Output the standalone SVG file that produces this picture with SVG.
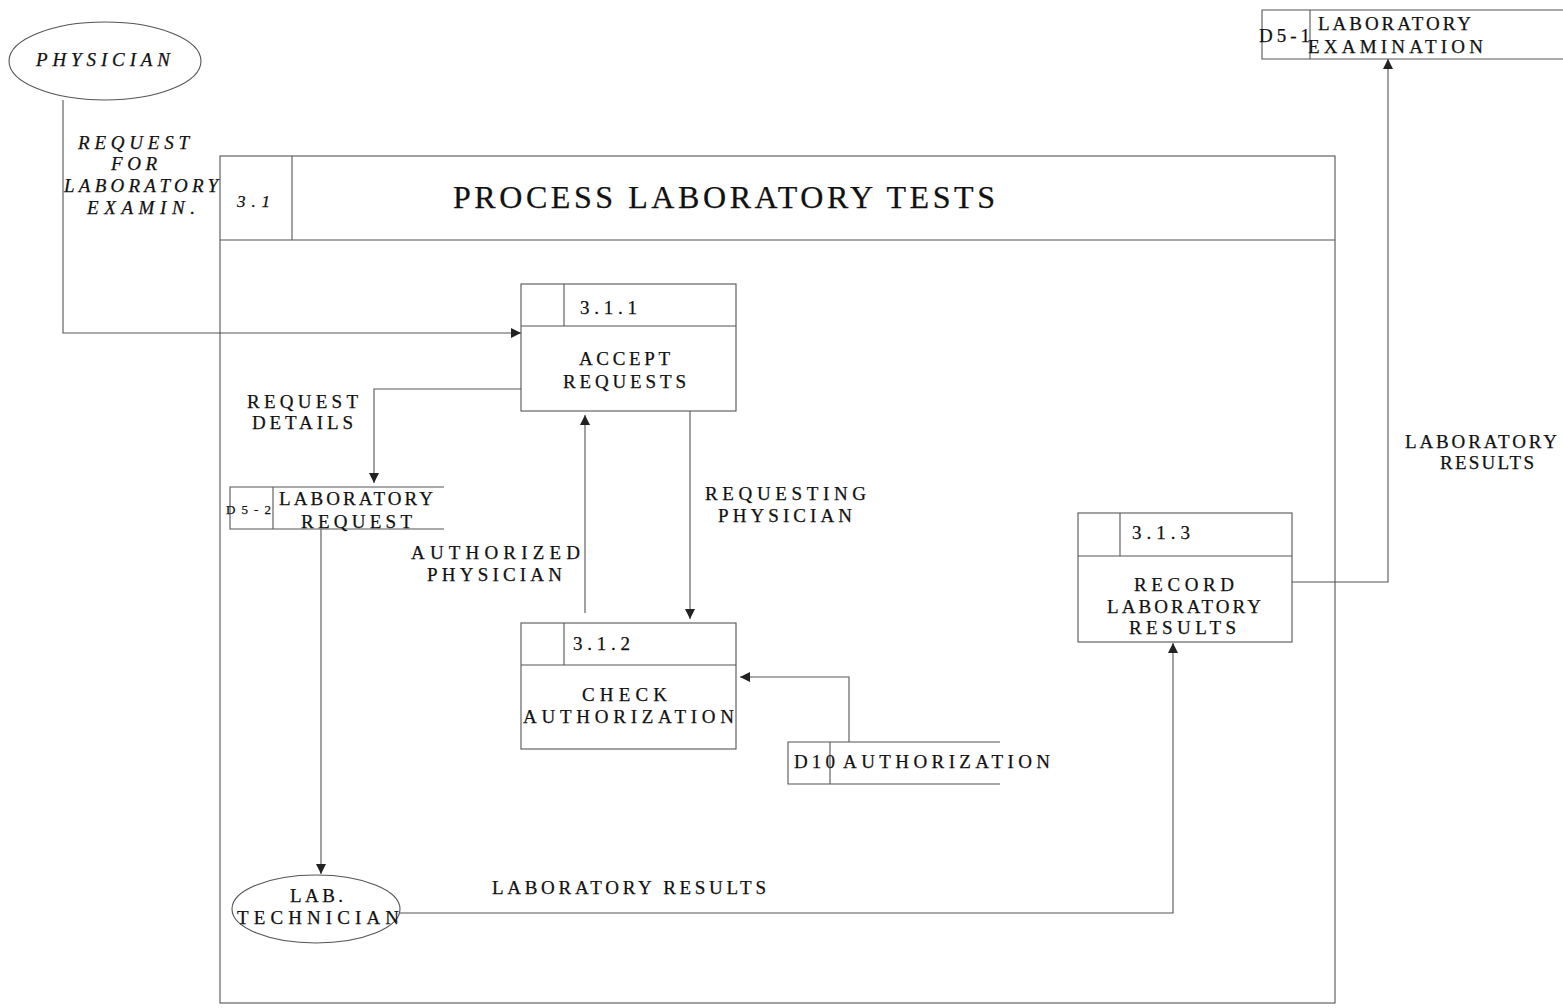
<svg xmlns="http://www.w3.org/2000/svg" width="1563" height="1008" viewBox="0 0 1563 1008">
<defs>
<style>
.box{fill:none;stroke:#555;stroke-width:1.1}
.ln{fill:none;stroke:#555;stroke-width:1.1}
.t{font-family:"Liberation Serif","Times New Roman",serif;font-size:19px;fill:#111;stroke:#111;stroke-width:0.25}
.i{font-style:italic}
.s{font-size:13px}
.title{font-size:32px}
</style>
<marker id="ah" viewBox="0 0 10 10" refX="10" refY="5" markerWidth="10" markerHeight="10" markerUnits="userSpaceOnUse" orient="auto">
<path d="M0,0 L10,5 L0,10 z" fill="#222"/>
</marker>
</defs>
<rect width="1563" height="1008" fill="#fff"/>

<g id="frame">
<rect class="box" x="220" y="156" width="1115" height="847"/>
<line class="box" x1="220" y1="240" x2="1335" y2="240"/>
<line class="box" x1="292" y1="156" x2="292" y2="240"/>
<text class="t i" x="237" y="207" textLength="33" lengthAdjust="spacing" style="font-size:17px">3.1</text>
<text class="t title" x="453" y="208" textLength="542" lengthAdjust="spacing">PROCESS LABORATORY TESTS</text>
</g>

<g id="physician">
<ellipse class="box" cx="105" cy="61" rx="96" ry="39"/>
<text class="t i" x="36" y="66" textLength="134" lengthAdjust="spacing">PHYSICIAN</text>
</g>

<g id="d5-1">
<path class="box" d="M1563,10 H1262 V59 H1563 M1310,10 V59"/>
<text class="t" x="1259" y="42" textLength="51" lengthAdjust="spacing">D5-1</text>
<text class="t" x="1318" y="30" textLength="153" lengthAdjust="spacing">LABORATORY</text>
<text class="t" x="1308" y="53" textLength="175" lengthAdjust="spacing">EXAMINATION</text>
</g>

<g id="p311">
<rect class="box" x="521" y="284" width="215" height="127"/>
<line class="box" x1="521" y1="326" x2="736" y2="326"/>
<line class="box" x1="564" y1="284" x2="564" y2="326"/>
<text class="t" x="580" y="314" textLength="57" lengthAdjust="spacing">3.1.1</text>
<text class="t" x="579" y="365" textLength="91" lengthAdjust="spacing">ACCEPT</text>
<text class="t" x="563" y="388" textLength="123" lengthAdjust="spacing">REQUESTS</text>
</g>

<g id="d5-2">
<path class="box" d="M444,487 H230 V529 H444 M273,487 V529"/>
<text class="t s" x="226" y="514" textLength="45" lengthAdjust="spacing">D5-2</text>
<text class="t" x="279" y="505" textLength="154" lengthAdjust="spacing">LABORATORY</text>
<text class="t" x="301" y="528" textLength="111" lengthAdjust="spacing">REQUEST</text>
</g>

<g id="p312">
<rect class="box" x="521" y="623" width="215" height="126"/>
<line class="box" x1="521" y1="665" x2="736" y2="665"/>
<line class="box" x1="564" y1="623" x2="564" y2="665"/>
<text class="t" x="573" y="650" textLength="57" lengthAdjust="spacing">3.1.2</text>
<text class="t" x="582" y="701" textLength="85" lengthAdjust="spacing">CHECK</text>
<text class="t" x="523" y="723" textLength="211" lengthAdjust="spacing">AUTHORIZATION</text>
</g>

<g id="d10">
<path class="box" d="M1000,742 H788 V784 H1000 M830,742 V784"/>
<text class="t" x="794" y="768" textLength="41" lengthAdjust="spacing">D10</text>
<text class="t" x="843" y="768" textLength="207" lengthAdjust="spacing">AUTHORIZATION</text>
</g>

<g id="p313">
<rect class="box" x="1078" y="513" width="214" height="129"/>
<line class="box" x1="1078" y1="556" x2="1292" y2="556"/>
<line class="box" x1="1120" y1="513" x2="1120" y2="556"/>
<text class="t" x="1132" y="539" textLength="58" lengthAdjust="spacing">3.1.3</text>
<text class="t" x="1134" y="591" textLength="100" lengthAdjust="spacing">RECORD</text>
<text class="t" x="1107" y="613" textLength="154" lengthAdjust="spacing">LABORATORY</text>
<text class="t" x="1129" y="634" textLength="107" lengthAdjust="spacing">RESULTS</text>
</g>

<g id="labtech">
<ellipse class="box" cx="316" cy="909" rx="84" ry="34"/>
<text class="t" x="290" y="902" textLength="53" lengthAdjust="spacing">LAB.</text>
<text class="t" x="237" y="924" textLength="162" lengthAdjust="spacing">TECHNICIAN</text>
</g>

<g id="connectors">
<path class="ln" d="M63,100 V333 H521" marker-end="url(#ah)"/>
<path class="ln" d="M521,389 H374 V483" marker-end="url(#ah)"/>
<path class="ln" d="M321,529 V874" marker-end="url(#ah)"/>
<path class="ln" d="M690,411 V619" marker-end="url(#ah)"/>
<path class="ln" d="M585,613 V415" marker-end="url(#ah)"/>
<path class="ln" d="M849,742 V677 H740" marker-end="url(#ah)"/>
<path class="ln" d="M400,913 H1173 V643" marker-end="url(#ah)"/>
<path class="ln" d="M1292,582 H1388 V59" marker-end="url(#ah)"/>
</g>

<g id="labels">
<text class="t i" x="78" y="149" textLength="111" lengthAdjust="spacing">REQUEST</text>
<text class="t i" x="111" y="170" textLength="46" lengthAdjust="spacing">FOR</text>
<text class="t i" x="64" y="192" textLength="154" lengthAdjust="spacing">LABORATORY</text>
<text class="t i" x="87" y="214" textLength="108" lengthAdjust="spacing">EXAMIN.</text>
<text class="t" x="247" y="408" textLength="111" lengthAdjust="spacing">REQUEST</text>
<text class="t" x="252" y="429" textLength="101" lengthAdjust="spacing">DETAILS</text>
<text class="t" x="705" y="500" textLength="161" lengthAdjust="spacing">REQUESTING</text>
<text class="t" x="718" y="522" textLength="134" lengthAdjust="spacing">PHYSICIAN</text>
<text class="t" x="411" y="559" textLength="169" lengthAdjust="spacing">AUTHORIZED</text>
<text class="t" x="427" y="581" textLength="135" lengthAdjust="spacing">PHYSICIAN</text>
<text class="t" x="492" y="894" textLength="274" lengthAdjust="spacing">LABORATORY RESULTS</text>
<text class="t" x="1405" y="448" textLength="152" lengthAdjust="spacing">LABORATORY</text>
<text class="t" x="1440" y="469" textLength="94" lengthAdjust="spacing">RESULTS</text>
</g>
</svg>
